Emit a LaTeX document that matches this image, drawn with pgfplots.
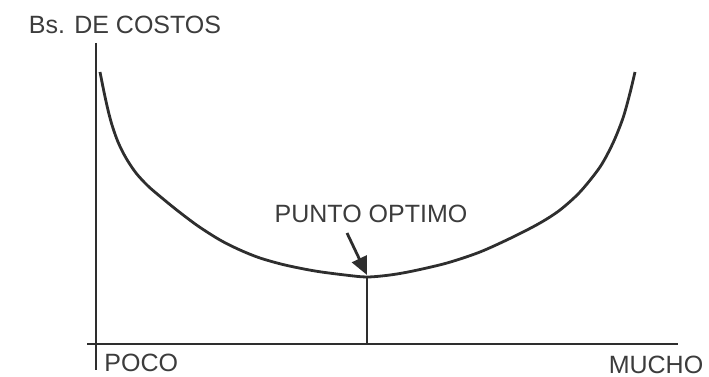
\documentclass[border=0pt]{standalone}
\usepackage{pgfplots}
\pgfplotsset{compat=1.18}
\usetikzlibrary{arrows.meta}
\usepackage{fontspec}
\setmainfont{Liberation Sans}
\definecolor{ink}{HTML}{2E2E2E}
\definecolor{txt}{HTML}{3C3C3C}
\tikzset{lbl/.style={font=\fontsize{12.5}{14}\selectfont, text=txt, inner sep=0pt}}

\begin{document}
\begin{tikzpicture}
\begin{axis}[
  scale only axis,
  width=354.5pt, height=188pt,
  xmin=0, xmax=709, ymin=0, ymax=376,
  hide axis, clip=false,
]
\path[use as bounding box] (axis cs:0,0) rectangle (axis cs:709,376);

% axes drawn by hand
\addplot[ink, line width=1.4pt] coordinates {(96,333) (96,6)};
\addplot[ink, line width=1.4pt] coordinates {(87,32) (678,32)};

% cost curve
\addplot[ink, line width=1.4pt, smooth, tension=0.5] coordinates {
  (100,304) (104,284) (108,266) (112,251) (118,234) (126,218) (136,203)
  (148,190) (162,178) (178,165) (198,150) (220,136) (240,126) (260,118)
  (285,111) (315,105) (345,101) (367,99) (390,101) (413,105) (447,113)
  (480,124) (513,139) (540,153) (560,166) (580,184) (600,209) (613,233)
  (623,258) (630,283) (635,304)
};

% optimum marker
\addplot[ink, line width=1.4pt] coordinates {(367,99) (367,32)};
\addplot[ink, line width=1.4pt, -{Triangle[length=9pt,width=8pt]}] coordinates {(347,143) (367,101)};

\node[lbl] at (axis cs:125,351) {Bs. DE COSTOS};
\node[lbl] at (axis cs:371,162) {PUNTO OPTIMO};
\node[lbl, anchor=west] at (axis cs:104,13) {POCO};
\node[lbl] at (axis cs:656,11) {MUCHO};
\end{axis}
\end{tikzpicture}
\end{document}
